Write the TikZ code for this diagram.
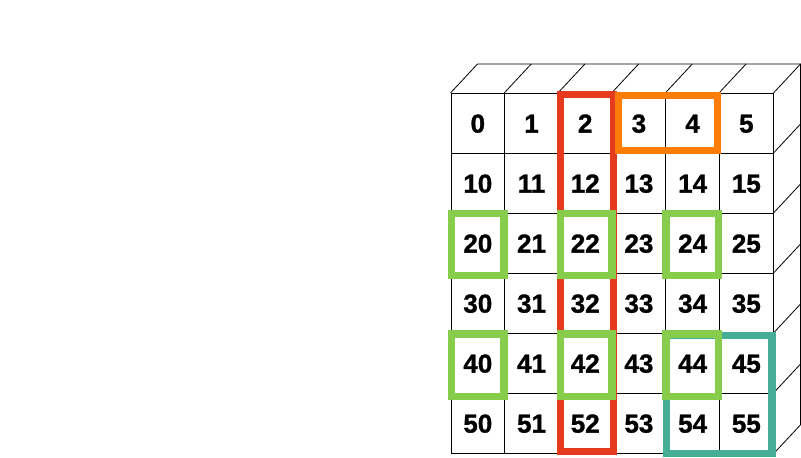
\documentclass[tikz,border=0pt]{standalone}
\usepackage{fontspec}
\setmainfont{Liberation Sans}[BoldFeatures={FakeBold=1.2}]
\usepackage{tikz}
\definecolor{redline}{HTML}{E63A1F}
\definecolor{orangeline}{HTML}{FB7D07}
\definecolor{greenline}{HTML}{88CC4C}
\definecolor{tealline}{HTML}{46AD96}
\begin{document}
\begin{tikzpicture}[x=53.7pt,y=-60pt,
    grid_node/.style={rectangle,draw=black,line width=0.8pt,minimum width=53.7pt,minimum height=60pt,inner sep=0pt,text height=18.6pt,text depth=0pt,font=\bfseries\fontsize{26}{31}\selectfont},
    edge_line/.style={draw=black,line width=0.8pt},
    red_box/.style={draw=redline,line width=7pt},
    orange_box/.style={draw=orangeline,line width=7pt},
    green_box/.style={draw=greenline,line width=7.5pt},
    teal_box/.style={draw=tealline,line width=7.5pt}]

		\useasboundingbox (-8.398,-1.555) rectangle (6.518,6.062);

		\node[grid_node] (0) at (0.5,0.5) {0};
		\node[grid_node] (1) at (1.5,0.5) {1};
		\node[grid_node] (2) at (2.5,0.5) {2};
		\node[grid_node] (3) at (3.5,0.5) {3};
		\node[grid_node] (4) at (4.5,0.5) {4};
		\node[grid_node] (5) at (5.5,0.5) {5};
		\node[grid_node] (10) at (0.5,1.5) {10};
		\node[grid_node] (11) at (1.5,1.5) {11};
		\node[grid_node] (12) at (2.5,1.5) {12};
		\node[grid_node] (13) at (3.5,1.5) {13};
		\node[grid_node] (14) at (4.5,1.5) {14};
		\node[grid_node] (15) at (5.5,1.5) {15};
		\node[grid_node] (20) at (0.5,2.5) {20};
		\node[grid_node] (21) at (1.5,2.5) {21};
		\node[grid_node] (22) at (2.5,2.5) {22};
		\node[grid_node] (23) at (3.5,2.5) {23};
		\node[grid_node] (24) at (4.5,2.5) {24};
		\node[grid_node] (25) at (5.5,2.5) {25};
		\node[grid_node] (30) at (0.5,3.5) {30};
		\node[grid_node] (31) at (1.5,3.5) {31};
		\node[grid_node] (32) at (2.5,3.5) {32};
		\node[grid_node] (33) at (3.5,3.5) {33};
		\node[grid_node] (34) at (4.5,3.5) {34};
		\node[grid_node] (35) at (5.5,3.5) {35};
		\node[grid_node] (40) at (0.5,4.5) {40};
		\node[grid_node] (41) at (1.5,4.5) {41};
		\node[grid_node] (42) at (2.5,4.5) {42};
		\node[grid_node] (43) at (3.5,4.5) {43};
		\node[grid_node] (44) at (4.5,4.5) {44};
		\node[grid_node] (45) at (5.5,4.5) {45};
		\node[grid_node] (50) at (0.5,5.5) {50};
		\node[grid_node] (51) at (1.5,5.5) {51};
		\node[grid_node] (52) at (2.5,5.5) {52};
		\node[grid_node] (53) at (3.5,5.5) {53};
		\node[grid_node] (54) at (4.5,5.5) {54};
		\node[grid_node] (55) at (5.5,5.5) {55};

		\draw[edge_line] (0.north west) -- ++(0.503,-0.483) -- ([shift={(0.503,-0.483)}]5.north east) -- ([shift={(0.503,-0.483)}]55.south east) -- (55.south east);
		\draw[edge_line] (1.north west) -- ++(0.503,-0.483);
		\draw[edge_line] (2.north west) -- ++(0.503,-0.483);
		\draw[edge_line] (3.north west) -- ++(0.503,-0.483);
		\draw[edge_line] (4.north west) -- ++(0.503,-0.483);
		\draw[edge_line] (5.north west) -- ++(0.503,-0.483);
		\draw[edge_line] (5.north east) -- ++(0.503,-0.483);
		\draw[edge_line] (15.north east) -- ++(0.503,-0.483);
		\draw[edge_line] (25.north east) -- ++(0.503,-0.483);
		\draw[edge_line] (35.north east) -- ++(0.503,-0.483);
		\draw[edge_line] (45.north east) -- ++(0.503,-0.483);
		\draw[edge_line] (55.north east) -- ++(0.503,-0.483);

		\draw[red_box] ([shift={(2.6pt,-1.4pt)}]2.north west) rectangle ([shift={(0.7pt,1.8pt)}]52.south east);
		\draw[orange_box] ([shift={(6.5pt,-2.2pt)}]3.north west) rectangle ([shift={(-2.6pt,3.3pt)}]4.south east);
		\draw[teal_box] ([shift={(1pt,-2.4pt)}]44.north west) rectangle ([shift={(-1.6pt,0pt)}]55.south east);
		\draw[green_box] ([shift={(1pt,-0.4pt)}]20.north west) rectangle ([shift={(-1.3pt,-1.7pt)}]20.south east);
		\draw[green_box] ([shift={(2.6pt,-0.4pt)}]22.north west) rectangle ([shift={(-0.7pt,-1.7pt)}]22.south east);
		\draw[green_box] ([shift={(0.5pt,-0.5pt)}]24.north west) rectangle ([shift={(-1.3pt,-1.7pt)}]24.south east);
		\draw[green_box] ([shift={(1pt,-1.2pt)}]40.north west) rectangle ([shift={(-1pt,-2.7pt)}]40.south east);
		\draw[green_box] ([shift={(2.6pt,-1.2pt)}]42.north west) rectangle ([shift={(-0.7pt,-2.7pt)}]42.south east);
		\draw[green_box] ([shift={(0.5pt,-1.2pt)}]44.north west) rectangle ([shift={(-1.3pt,-2.7pt)}]44.south east);
		\end{tikzpicture}
\end{document}
